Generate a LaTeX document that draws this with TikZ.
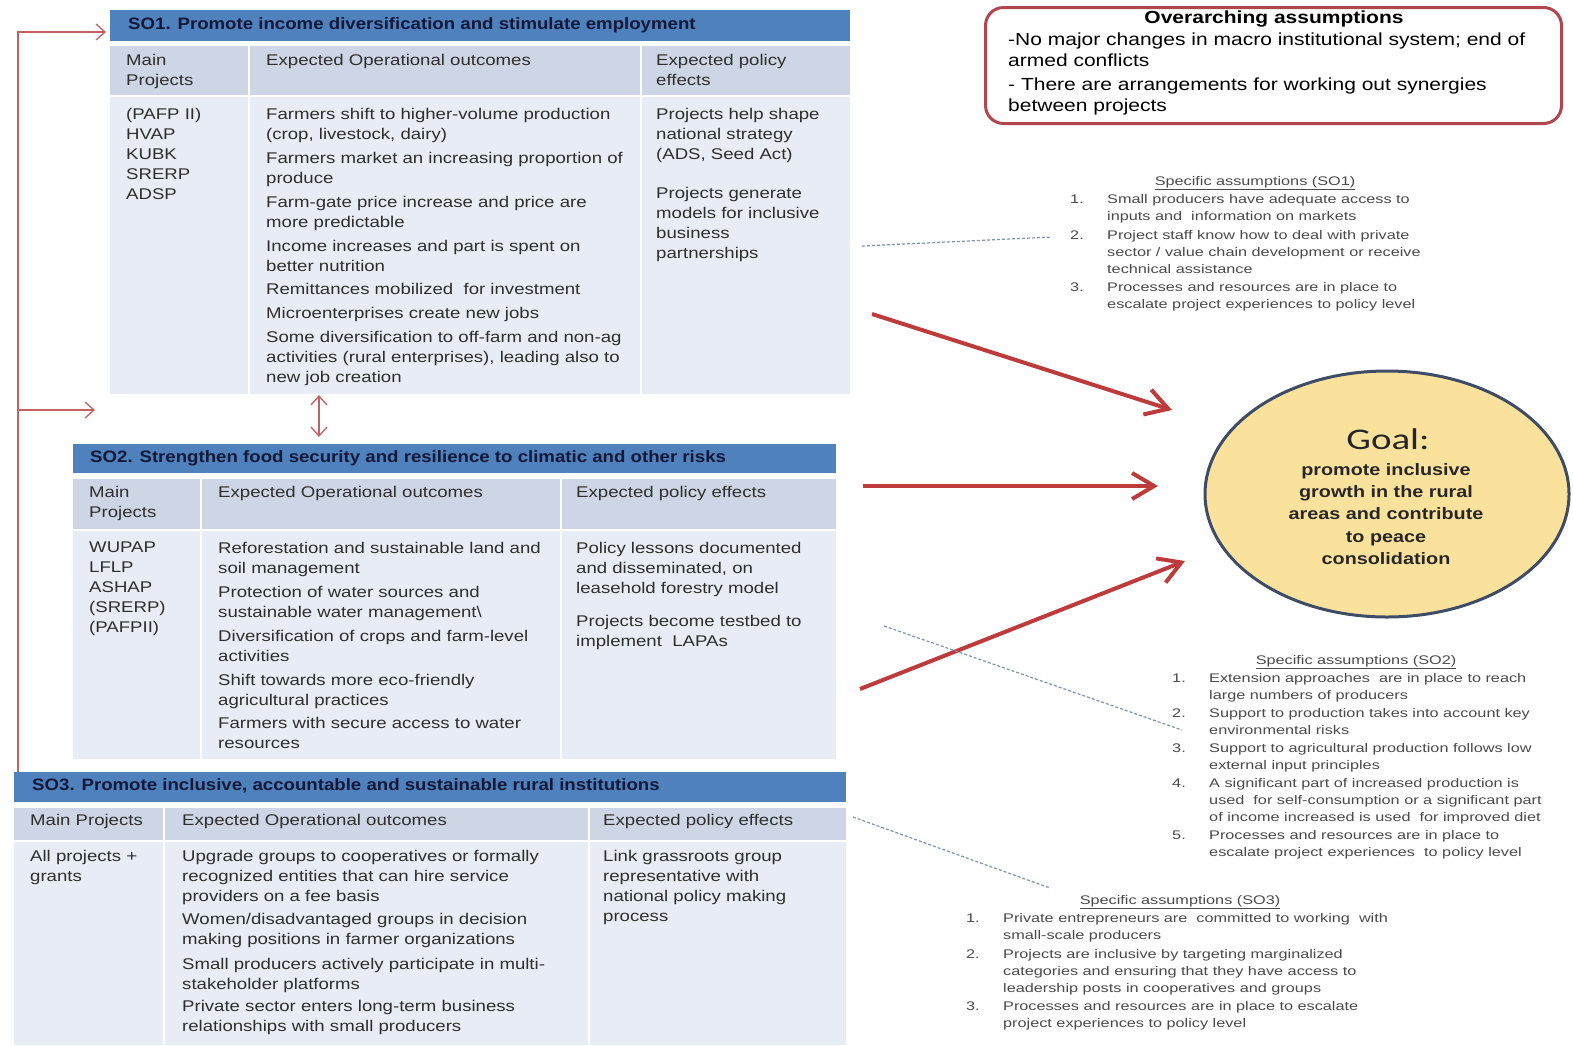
\documentclass[tikz,border=0pt]{standalone}
\usepackage{fontspec}
\setmainfont{Liberation Sans}
\newfontfamily\bodyf{Liberation Sans}[FakeStretch=1.2]
\newfontfamily\hdrf{Liberation Sans}[FakeStretch=1.13]
\newfontfamily\smallf{Liberation Sans}[FakeStretch=1.3]
\newfontfamily\goalf{Carlito}[FakeStretch=1.3]
\usetikzlibrary{shapes.geometric,arrows.meta}
\definecolor{hdrblue}{HTML}{4F81BD}
\definecolor{colgray}{HTML}{CED6E5}
\definecolor{bodygray}{HTML}{E8ECF4}
\definecolor{txt}{HTML}{2E2E2E}
\definecolor{navy}{HTML}{141838}
\definecolor{redarr}{HTML}{BE3B3B}
\definecolor{thinred}{HTML}{C46060}
\definecolor{boxred}{HTML}{B0464E}
\definecolor{goalfill}{HTML}{FBE29C}
\definecolor{goaledge}{HTML}{3E4C66}
\definecolor{dashc}{HTML}{8093AE}
\definecolor{asstxt}{HTML}{4A4A4A}
\newcommand\anum[1]{\makebox[37pt][l]{#1}}
\newcommand\aind{\hspace*{37pt}}
\tikzset{
 cell/.style={anchor=north west, inner sep=0pt, outer sep=0pt, draw=none},
 hdrbar/.style={cell, fill=hdrblue},
 colhd/.style={cell, fill=colgray},
 bodyc/.style={cell, fill=bodygray},
 ttext/.style={anchor=north west, inner sep=0pt, align=left, text=txt, font=\bodyf\fontsize{15.5}{20}\selectfont},
 htext/.style={anchor=west, inner sep=0pt, text=navy, font=\hdrf\bfseries\fontsize{16.5}{20}\selectfont},
 atext/.style={anchor=north west, inner sep=0pt, align=left, text=asstxt, font=\smallf\fontsize{12.5}{17}\selectfont},
 atitle/.style={inner sep=0pt, text=asstxt, font=\smallf\fontsize{12.5}{17}\selectfont},
 bigarrow/.style={draw=redarr, line width=4pt, -{Straight Barb[length=22pt,width=26pt]}},
 thinarrow/.style={draw=thinred, line width=1.3pt, -{Straight Barb[length=9pt,width=16pt]}},
 dashline/.style={draw=dashc, line width=1.2pt, dash pattern=on 3pt off 2pt},
}
\begin{document}
\begin{tikzpicture}[x=1pt,y=-1pt]
\path[fill=white] (0,0) rectangle (1573,1045);
\useasboundingbox (0,0) rectangle (1573,1045);

% ---------------- SO1 ----------------
\node[hdrbar, minimum width=740pt, minimum height=31pt] (h1) at (110,10) {};
\node[colhd, minimum width=138pt, minimum height=49pt] (c1a) at (110,46) {};
\node[colhd, minimum width=390pt, minimum height=49pt] (c1b) at (250,46) {};
\node[colhd, minimum width=208pt, minimum height=49pt] (c1c) at (642,46) {};
\node[bodyc, minimum width=138pt, minimum height=297pt] (b1a) at (110,97) {};
\node[bodyc, minimum width=390pt, minimum height=297pt] (b1b) at (250,97) {};
\node[bodyc, minimum width=208pt, minimum height=297pt] (b1c) at (642,97) {};
\node[htext] (h1t) at (128,25) {SO1. Promote income diversification and stimulate employment};
\node[ttext] (c1at) at (126,54) {Main\\Projects};
\node[ttext] (c1bt) at (266,54) {Expected Operational outcomes};
\node[ttext] (c1ct) at (656,54) {Expected policy\\effects};
\node[ttext] (b1at) at (126,108) {(PAFP II)\\HVAP\\KUBK\\SRERP\\ADSP};
\node[ttext] (b1bt) at (266,108) {Farmers shift to higher-volume production\\(crop, livestock, dairy)\\[4pt]
Farmers market an increasing proportion of\\produce\\[4pt]
Farm-gate price increase and price are\\more predictable\\[4pt]
Income increases and part is spent on\\better nutrition\\[3pt]
Remittances mobilized\ \ for investment\\[4pt]
Microenterprises create new jobs\\[4pt]
Some diversification to off-farm and non-ag\\activities (rural enterprises), leading also to\\new job creation};
\node[ttext] (b1ct) at (656,108) {Projects help shape\\national strategy\\(ADS, Seed Act)\\[19pt]
Projects generate\\models for inclusive\\business\\partnerships};

% ---------------- SO2 ----------------
\node[hdrbar, minimum width=763pt, minimum height=29pt] (h2) at (73,444) {};
\node[colhd, minimum width=127pt, minimum height=50pt] (c2a) at (73,479) {};
\node[colhd, minimum width=358pt, minimum height=50pt] (c2b) at (202,479) {};
\node[colhd, minimum width=274pt, minimum height=50pt] (c2c) at (562,479) {};
\node[bodyc, minimum width=127pt, minimum height=228pt] (b2a) at (73,531) {};
\node[bodyc, minimum width=358pt, minimum height=228pt] (b2b) at (202,531) {};
\node[bodyc, minimum width=274pt, minimum height=228pt] (b2c) at (562,531) {};
\node[htext] (h2t) at (90,458) {SO2. Strengthen food security and resilience to climatic and other risks};
\node[ttext] (c2at) at (89,486) {Main\\Projects};
\node[ttext] (c2bt) at (218,486) {Expected Operational outcomes};
\node[ttext] (c2ct) at (576,486) {Expected policy effects};
\node[ttext] (b2at) at (89,542) {WUPAP\\LFLP\\ASHAP\\(SRERP)\\(PAFPII)};
\node[ttext] (b2bt) at (218,542) {Reforestation and sustainable land and\\soil management\\[4pt]
Protection of water sources and\\sustainable water management\textbackslash\\[4pt]
Diversification of crops and farm-level\\activities\\[4pt]
Shift towards more eco-friendly\\agricultural practices\\[3pt]
Farmers with secure access to water\\resources};
\node[ttext] (b2ct) at (576,542) {Policy lessons documented\\and disseminated, on\\leasehold forestry model\\[13pt]
Projects become testbed to\\implement\ \ LAPAs};

% ---------------- SO3 ----------------
\node[hdrbar, minimum width=832pt, minimum height=30pt] (h3) at (14,772) {};
\node[colhd, minimum width=149pt, minimum height=32pt] (c3a) at (14,808) {};
\node[colhd, minimum width=423pt, minimum height=32pt] (c3b) at (165,808) {};
\node[colhd, minimum width=256pt, minimum height=32pt] (c3c) at (590,808) {};
\node[bodyc, minimum width=149pt, minimum height=203pt] (b3a) at (14,842) {};
\node[bodyc, minimum width=423pt, minimum height=203pt] (b3b) at (165,842) {};
\node[bodyc, minimum width=256pt, minimum height=203pt] (b3c) at (590,842) {};
\node[htext] (h3t) at (32,786) {SO3. Promote inclusive, accountable and sustainable rural institutions};
\node[ttext] (c3at) at (30,814) {Main Projects};
\node[ttext] (c3bt) at (182,814) {Expected Operational outcomes};
\node[ttext] (c3ct) at (603,814) {Expected policy effects};
\node[ttext] (b3at) at (30,850) {All projects +\\grants};
\node[ttext] (b3bt) at (182,850) {Upgrade groups to cooperatives or formally\\recognized entities that can hire service\\providers on a fee basis\\[3pt]
Women/disadvantaged groups in decision\\making positions in farmer organizations\\[5pt]
Small producers actively participate in multi-\\stakeholder platforms\\[2pt]
Private sector enters long-term business\\relationships with small producers};
\node[ttext] (b3ct) at (603,850) {Link grassroots group\\representative with\\national policy making\\process};

% ---------------- connectors on the left ----------------
\coordinate (lcbot) at (18,772);
\coordinate (lctop) at (18,32);
\coordinate (lcmid) at (18,410);
\coordinate (so2in) at (95,410);
\draw[thinarrow, shorten >=4pt] (lcbot) -- (lctop) -- (h1.west |- lctop);
\draw[thinarrow] (lcmid) -- (so2in);
\coordinate (dbtop) at (319,395);
\coordinate (dbbot) at (319,437);
\draw[thinarrow, {Straight Barb[length=9pt,width=16pt]}-{Straight Barb[length=9pt,width=16pt]}] (dbtop) -- (dbbot);

% ---------------- Overarching assumptions ----------------
\node[anchor=north west, draw=boxred, line width=3pt, rounded corners=18pt, fill=white,
      minimum width=576pt, minimum height=116pt, inner sep=0pt] (obox) at (984,6) {};
\node[inner sep=0pt, text=black, font=\bodyf\bfseries\fontsize{17.5}{21}\selectfont] (otitle) at (1274,19) {Overarching assumptions};
\node[anchor=north west, inner sep=0pt, align=left, text=black, font=\bodyf\fontsize{17.5}{21}\selectfont] (otext) at (1008,33)
 {-No major changes in macro institutional system; end of\\armed conflicts\\[3pt]
 - There are arrangements for working out synergies\\between projects};

% ---------------- Goal ----------------
\node[ellipse, draw=goaledge, line width=3pt, fill=goalfill, minimum width=364pt, minimum height=246pt, inner sep=0pt] (goal) at (1387,494) {};
\node[inner sep=0pt, text=black!85, font=\goalf\fontsize{30}{30}\selectfont] (goalh) at (1388,439) {Goal:};
\node[anchor=north, inner sep=0pt, align=center, text=black!85, font=\bodyf\bfseries\fontsize{16.5}{22.3}\selectfont] (goalt) at (1386,463)
 {promote inclusive\\growth in the rural\\areas and contribute\\to peace\\consolidation};

% ---------------- thick arrows to goal ----------------
\coordinate (r1s) at (872,314); \coordinate (r1e) at (1172,410);
\coordinate (r2s) at (863,486); \coordinate (r2e) at (1158,486);
\coordinate (r3s) at (860,689); \coordinate (r3e) at (1185,561);
\draw[bigarrow] (r1s) -- (r1e);
\draw[bigarrow] (r2s) -- (r2e);
\draw[bigarrow] (r3s) -- (r3e);

% ---------------- dashed leaders ----------------
\coordinate (d1s) at (862,246); \coordinate (d1e) at (1052,237);
\coordinate (d2s) at (884,626); \coordinate (d2e) at (1182,730);
\coordinate (d3s) at (853,817); \coordinate (d3e) at (1050,888);
\draw[dashline] (d1s) -- (d1e);
\draw[dashline] (d2s) -- (d2e);
\draw[dashline] (d3s) -- (d3e);

% ---------------- Specific assumptions ----------------
\node[atitle] (a1t) at (1255,183) {\underline{Specific assumptions (SO1)}};
\node[atext] (a1) at (1070,194) {\anum{1.}Small producers have adequate access to\\\aind inputs and\ \ information on markets\\[2pt]
\anum{2.}Project staff know how to deal with private\\\aind sector / value chain development or receive\\\aind technical assistance\\[1pt]
\anum{3.}Processes and resources are in place to\\\aind escalate project experiences to policy level};

\node[atitle] (a2t) at (1356,662) {\underline{Specific assumptions (SO2)}};
\node[atext] (a2) at (1172,673) {\anum{1.}Extension approaches\ \ are in place to reach\\\aind large numbers of producers\\[1pt]
\anum{2.}Support to production takes into account key\\\aind environmental risks\\[1pt]
\anum{3.}Support to agricultural production follows low\\\aind external input principles\\[1pt]
\anum{4.}A significant part of increased production is\\\aind used\ \ for self-consumption or a significant part\\\aind of income increased is used\ \ for improved diet\\[1pt]
\anum{5.}Processes and resources are in place to\\\aind escalate project experiences\ \ to policy level};

\node[atitle] (a3t) at (1180,902) {\underline{Specific assumptions (SO3)}};
\node[atext] (a3) at (966,913) {\anum{1.}Private entrepreneurs are\ \ committed to working\ \ with\\\aind small-scale producers\\[2pt]
\anum{2.}Projects are inclusive by targeting marginalized\\\aind categories and ensuring that they have access to\\\aind leadership posts in cooperatives and groups\\[1pt]
\anum{3.}Processes and resources are in place to escalate\\\aind project experiences to policy level};
\end{tikzpicture}
\end{document}
